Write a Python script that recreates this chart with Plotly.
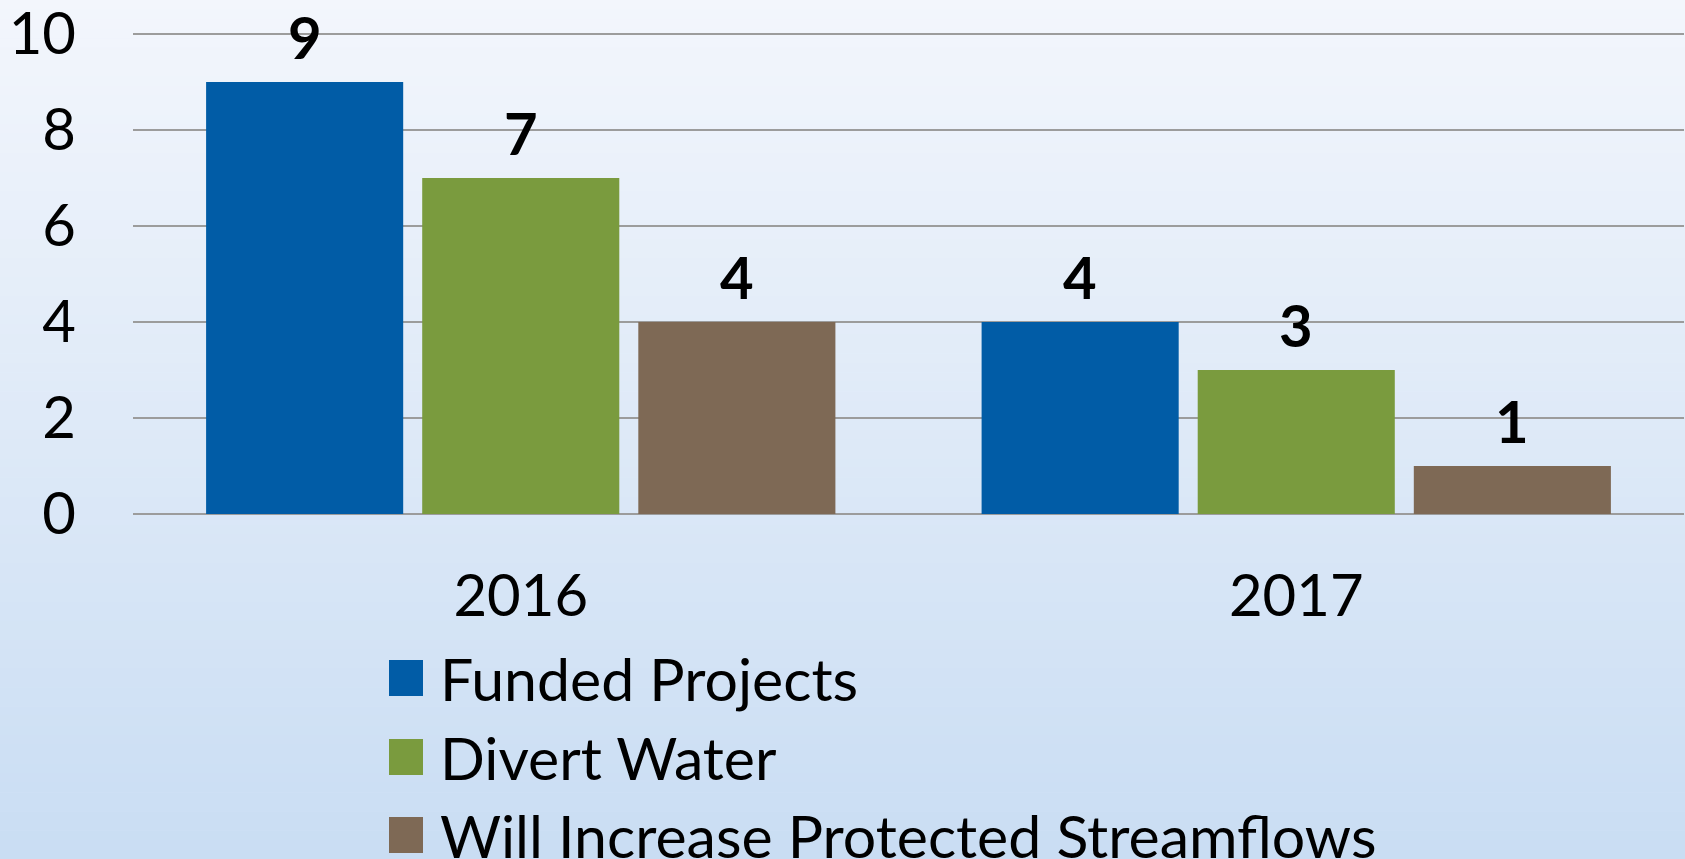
import plotly.graph_objects as go

# ---- data ----
years = ["2016", "2017"]
series_names = ["Funded Projects", "Divert Water", "Will Increase Protected Streamflows"]
funded = [9, 4]
divert = [7, 3]
streamflows = [4, 1]
colors = ["#015CA6", "#7A9B3E", "#7E6955"]
y_ticks = [0, 2, 4, 6, 8, 10]

W, H = 1685, 859
ML, MR, MT, MB = 133, 1, 31, 345
PW, PH = W - ML - MR, H - MT - MB

def px_x(x):
    return (x - ML) / PW

def px_y(y):
    return (H - MB - y) / PH

FONT = "Lato, Calibri, 'Open Sans', sans-serif"
BARGAP, BARGROUPGAP = 0.164, 0.088

fig = go.Figure()
all_vals = [funded, divert, streamflows]
for name, vals, col in zip(series_names, all_vals, colors):
    fig.add_trace(go.Bar(
        x=years, y=vals, name=name, marker=dict(color=col, line=dict(width=0)),
        showlegend=False,
    ))

annotations = []
# value labels above each bar, positioned through the axes
slot = (1 - BARGAP) / len(all_vals)
for si, vals in enumerate(all_vals):
    off = (si - (len(all_vals) - 1) / 2) * slot
    for ci, v in enumerate(vals):
        annotations.append(dict(xref="x", yref="y", x=ci + off, y=v, text="<b>%d</b>" % v,
                                showarrow=False, yanchor="bottom", yshift=9,
                                font=dict(family=FONT, size=58, color="#000000")))

# background gradient bands (whole figure, slightly oversized)
top = (243, 246, 252)
bot = (201, 221, 243)
N = 90
shapes = []
for i in range(N):
    t = (i + 0.5) / N
    c = tuple(round(top[k] + (bot[k] - top[k]) * t) for k in range(3))
    y0 = i * H / N - (20 if i == 0 else 0)
    y1 = (i + 1) * H / N + (20 if i == N - 1 else 0.5)
    shapes.append(dict(type="rect", xref="paper", yref="paper",
                       x0=px_x(-20), x1=px_x(W + 20), y0=px_y(y1), y1=px_y(y0),
                       fillcolor="rgb(%d,%d,%d)" % c, line=dict(width=0), layer="below"))

# manual legend
leg_y = [678, 757, 835]
for name, col, yc in zip(series_names, colors, leg_y):
    shapes.append(dict(type="rect", xref="paper", yref="paper",
                       x0=px_x(389), x1=px_x(423), y0=px_y(yc + 18), y1=px_y(yc - 18),
                       fillcolor=col, line=dict(width=0), layer="above"))
    annotations.append(dict(xref="paper", yref="paper", x=px_x(438), y=px_y(yc),
                            xanchor="left", yanchor="middle", showarrow=False,
                            text=name, font=dict(family=FONT, size=59, color="#000000")))

fig.update_layout(
    width=W, height=H,
    margin=dict(l=ML, r=MR, t=MT, b=MB, pad=0, autoexpand=False),
    paper_bgcolor="rgb(236,242,251)",
    plot_bgcolor="rgba(0,0,0,0)",
    barmode="group", bargap=BARGAP, bargroupgap=BARGROUPGAP,
    shapes=shapes, annotations=annotations,
    showlegend=False,
    xaxis=dict(type="category", showgrid=False, zeroline=False, showline=False,
               ticks="", automargin=False,
               tickfont=dict(family=FONT, size=58, color="#000000"),
               ticklabelstandoff=43),
    yaxis=dict(range=[0, 10.06], tickvals=y_ticks, showgrid=True, gridcolor="#9C9C9C",
               gridwidth=1.5, zeroline=True, zerolinecolor="#9C9C9C", zerolinewidth=1.5,
               showline=False, ticks="", ticklabeloverflow="allow", automargin=False,
               tickfont=dict(family=FONT, size=58, color="#000000"),
               ticklabelstandoff=56),
)

fig.write_html("out.html", config={"displayModeBar": False},
               post_script="document.body.style.margin='0';document.body.style.overflow='hidden';")
